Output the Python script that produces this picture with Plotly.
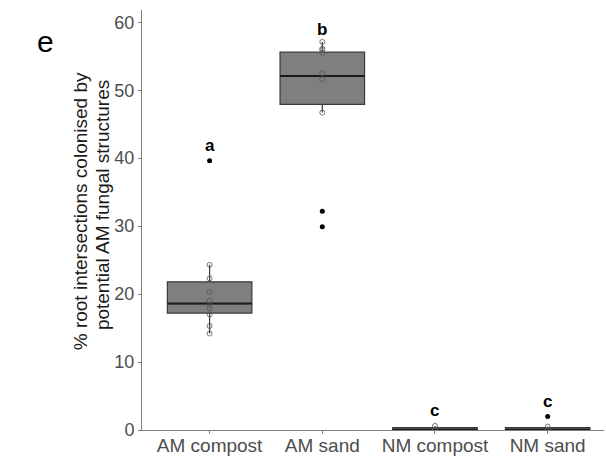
import plotly.graph_objects as go

categories = ["AM compost", "AM sand", "NM compost", "NM sand"]
q1 = [17.2, 47.9, 0.0, 0.0]
median = [18.6, 52.1, 0.0, 0.0]
q3 = [21.8, 55.6, 0.35, 0.35]
lower = [14.2, 46.7, 0.0, 0.0]
upper = [24.3, 57.1, 0.6, 0.5]
points = [
    [24.3, 22.3, 20.3, 19.0, 18.4, 17.9, 17.0, 15.3, 14.2],
    [57.1, 56.1, 55.9, 55.5, 52.5, 51.6, 46.7],
    [0.6, 0.0, 0.0, 0.0],
    [0.5, 0.0, 0.0],
]
outliers = [[39.6], [32.2, 29.9], [], [2.0]]
letters = ["a", "b", "c", "c"]
letter_y = [41.8, 59.0, 2.8, 4.2]
title_lines = ["% root intersections colonised by", "potential AM fungal structures"]

pos = list(range(len(categories)))
fig = go.Figure()
for i in pos:
    fig.add_trace(go.Box(
        x=[i], q1=[q1[i]], median=[median[i]], q3=[q3[i]],
        lowerfence=[lower[i]], upperfence=[upper[i]],
        width=0.75, whiskerwidth=0, fillcolor="#7f7f7f",
        line=dict(color="#3a3a3a", width=1.2), boxpoints=False,
        showlegend=False, hoverinfo="skip"))
    half = 0.375
    fig.add_trace(go.Scatter(
        x=[i - half, i + half], y=[median[i], median[i]], mode="lines",
        line=dict(color="#1a1a1a", width=2), showlegend=False, hoverinfo="skip"))
    fig.add_trace(go.Scatter(
        x=[i] * len(points[i]), y=points[i], mode="markers",
        marker=dict(symbol="circle-open", size=5, color="#555555", line=dict(width=1)),
        opacity=0.8, showlegend=False, hoverinfo="skip"))
    if outliers[i]:
        fig.add_trace(go.Scatter(
            x=[i] * len(outliers[i]), y=outliers[i], mode="markers",
            marker=dict(size=5, color="black"), showlegend=False, hoverinfo="skip"))
    fig.add_annotation(x=i, y=letter_y[i], text="<b>%s</b>" % letters[i],
                       showarrow=False, font=dict(size=17, color="black"))

for txt, xp, yp in zip(title_lines, [-0.134, -0.087], [0.521, 0.535]):
    fig.add_annotation(xref="paper", yref="paper", x=xp, y=yp, xanchor="center", yanchor="middle",
                       text=txt, textangle=-90, showarrow=False,
                       font=dict(size=19, color="#1a1a1a", family="Liberation Sans, Arial"))
fig.add_annotation(xref="paper", yref="paper", x=-0.208, y=0.926, xanchor="center", yanchor="middle",
                   text="e", showarrow=False,
                   font=dict(size=30, color="black", family="Liberation Sans, Arial"))

fig.update_layout(
    width=606, height=456,
    margin=dict(l=142, r=2, t=10, b=26),
    paper_bgcolor="white", plot_bgcolor="white",
    font=dict(family="Liberation Sans, Arial", size=19, color="#4d4d4d"),
    xaxis=dict(range=[-0.6, 3.5], tickvals=pos, ticktext=categories, automargin=False,
               showgrid=False, zeroline=False, showline=True, linecolor="#7f7f7f",
               linewidth=1, ticks="outside", ticklen=3, tickcolor="#7f7f7f",
               ticklabelstandoff=-5,
               tickfont=dict(size=19, color="#4d4d4d")),
    yaxis=dict(range=[0, 61.8], tickvals=[0, 10, 20, 30, 40, 50, 60], automargin=False,
               showgrid=False, zeroline=False, showline=True, linecolor="#7f7f7f",
               linewidth=1, ticks="outside", ticklen=3, tickcolor="#7f7f7f",
               tickfont=dict(size=18, color="#4d4d4d")),
)
fig.write_html("out.html")
